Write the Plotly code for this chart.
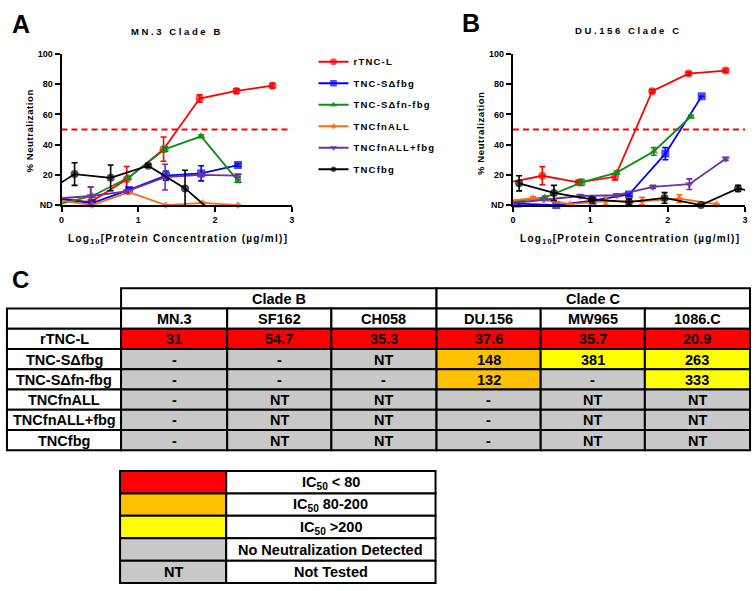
import plotly.graph_objects as go
import numpy as np

W, H = 756, 591

# ---------------- Panel A: MN.3 Clade B ----------------
series_names = ["rTNC-L", "TNC-S\u0394fbg", "TNC-S\u0394fn-fbg", "TNCfnALL", "TNCfnALL+fbg", "TNCfbg"]

a_rtncl_x = [-0.10, 0.38, 0.85, 1.33, 1.80, 2.28, 2.75]
a_rtncl_y = [4.5, 2, 17, 37, 70.5, 75.5, 79]
a_rtncl_e = [0, 10, 8.5, 8, 2.5, 1.5, 1.5]

a_sfbg_x = [-0.08, 0.40, 0.88, 1.36, 1.82, 2.30]
a_sfbg_y = [4.5, 1.3, 10, 19.5, 21, 26.5]
a_sfbg_e = [0, 1, 1.5, 3, 5, 1]

a_sfnfbg_x = [-0.08, 0.40, 0.87, 1.35, 1.82, 2.30]
a_sfnfbg_y = [0, 6, 18, 37, 45.5, 16]
a_sfnfbg_e = [0, 1, 1, 1.5, 1, 1]

a_fnall_x = [-0.08, 0.40, 0.88, 1.36, 1.84, 2.30]
a_fnall_y = [3.5, 0, 8.5, 0, 1.5, 0]
a_fnall_e = [0, 0, 1, 0, 0, 0]

a_fnallfbg_x = [-0.08, 0.38, 0.85, 1.35, 1.82, 2.30]
a_fnallfbg_y = [4.2, 6, 9, 18.5, 20, 19.5]
a_fnallfbg_e = [0, 6, 1, 8.5, 1, 1]

a_fbg_x = [-0.31, 0.17, 0.64, 1.13, 1.61, 2.09]
a_fbg_y = [5, 20.5, 18, 26, 11, -10]
a_fbg_e = [0, 7.5, 8.5, 1, 12, 0]

# ---------------- Panel B: DU.156 Clade C ----------------
b_rtncl_x = [-0.10, 0.38, 0.85, 1.32, 1.80, 2.27, 2.75]
b_rtncl_y = [14.5, 19.4, 15, 18.7, 75.4, 87, 89]
b_rtncl_e = [0, 6, 1, 2, 1, 1, 1]

b_sfbg_x = [0.055, 0.56, 1.03, 1.50, 1.97, 2.44]
b_sfbg_y = [1, 0, 3, 7, 34, 72]
b_sfbg_e = [0, 0, 2, 1, 4, 0]

b_sfnfbg_x = [-0.07, 0.41, 0.89, 1.34, 1.82, 2.30]
b_sfnfbg_y = [2, 5, 15, 21.5, 35.5, 58.6]
b_sfnfbg_e = [0, 1, 2, 1, 2.5, 1]

b_fnall_x = [-0.21, 0.26, 0.74, 1.20, 1.67, 2.15, 2.63]
b_fnall_y = [2, 4.5, 0.6, 2.6, 2.6, 4.3, 0.6]
b_fnall_e = [0, 1, 0, 2.5, 2.5, 2.5, 0]

b_fnallfbg_x = [-0.07, 0.40, 0.87, 1.34, 1.81, 2.28, 2.75]
b_fnallfbg_y = [1, 3.5, 6, 6.5, 12, 13.8, 30.6]
b_fnallfbg_e = [0, 0, 1, 1, 1, 3.5, 1]

b_fbg_x = [0.08, 0.53, 1.02, 1.50, 1.96, 2.43, 2.91, 3.38]
b_fbg_y = [14.4, 8, 3.7, 2, 4.7, 0, 11, 5.8]
b_fbg_e = [5, 5, 1, 2, 3.5, 0, 2, 0]

x_ticks = [0, 1, 2, 3]
y_ticks = [0, 20, 40, 60, 80, 100]
y_ticklabels = ["ND", "20", "40", "60", "80", "100"]

# ---------------- Table C ----------------
table_clades = ["Clade B", "Clade C"]
table_cols = ["MN.3", "SF162", "CH058", "DU.156", "MW965", "1086.C"]
table_rows = ["rTNC-L", "TNC-S\u0394fbg", "TNC-S\u0394fn-fbg", "TNCfnALL", "TNCfnALL+fbg", "TNCfbg"]
table_vals = [
    ["31", "54.7", "35.3", "37.6", "35.7", "20.9"],
    ["-", "-", "NT", "148", "381", "263"],
    ["-", "-", "-", "132", "-", "333"],
    ["-", "NT", "NT", "-", "NT", "NT"],
    ["-", "NT", "NT", "-", "NT", "NT"],
    ["-", "NT", "NT", "-", "NT", "NT"],
]
key_swatch_text = ["", "", "", "", "NT"]
key_labels = ["IC<sub>50</sub> < 80", "IC<sub>50</sub> 80-200", "IC<sub>50</sub> >200",
              "No Neutralization Detected", "Not Tested"]

# ---------------- styles ----------------
COL_RED = "#FF0000"
COL_ORANGE = "#FFC000"
COL_YELLOW = "#FFFF00"
COL_GRAY = "#C8C8C8"
key_colors = [COL_RED, COL_ORANGE, COL_YELLOW, COL_GRAY, COL_GRAY]

styles = [
    dict(color="#FF0000", symbol="circle", size=8),
    dict(color="#0000FF", symbol="square", size=8),
    dict(color="#138A13", symbol="triangle-up", size=8),
    dict(color="#FF6A13", symbol="diamond", size=6),
    dict(color="#7030A0", symbol="triangle-down", size=8),
    dict(color="#000000", symbol="circle", size=8),
]

FONT = "Liberation Sans, Arial, sans-serif"


def sp(text, ls):
    return '<span style="letter-spacing:%spx">%s</span>' % (ls, text)


def px(x):
    return x / W


def py(y):
    return 1 - y / H


fig = go.Figure()

panelA = [(a_rtncl_x, a_rtncl_y, a_rtncl_e), (a_sfbg_x, a_sfbg_y, a_sfbg_e),
          (a_sfnfbg_x, a_sfnfbg_y, a_sfnfbg_e), (a_fnall_x, a_fnall_y, a_fnall_e),
          (a_fnallfbg_x, a_fnallfbg_y, a_fnallfbg_e), (a_fbg_x, a_fbg_y, a_fbg_e)]
panelB = [(b_rtncl_x, b_rtncl_y, b_rtncl_e), (b_sfbg_x, b_sfbg_y, b_sfbg_e),
          (b_sfnfbg_x, b_sfnfbg_y, b_sfnfbg_e), (b_fnall_x, b_fnall_y, b_fnall_e),
          (b_fnallfbg_x, b_fnallfbg_y, b_fnallfbg_e), (b_fbg_x, b_fbg_y, b_fbg_e)]

for pi, (panel, xa, ya) in enumerate([(panelA, "x", "y"), (panelB, "x2", "y2")]):
    for si, (xs, ys, es) in enumerate(panel):
        st = styles[si]
        xs_a = np.array(xs, dtype=float)
        ys_a = np.array(ys, dtype=float)
        inside = (xs_a >= 0) & (xs_a <= 3) & (ys_a >= 0)
        sizes = np.where(inside, st["size"], 0)
        errs = np.where(inside, np.array(es, dtype=float), 0)
        fig.add_trace(go.Scatter(
            x=xs, y=ys, mode="lines+markers", xaxis=xa, yaxis=ya,
            name=sp(series_names[si], 1.2), legendgroup="g%d" % si,
            showlegend=(pi == 0), cliponaxis=False,
            line=dict(color=st["color"], width=1.8),
            marker=dict(color=st["color"], symbol=st["symbol"], size=sizes,
                        line=dict(width=0)),
            error_y=dict(type="data", array=errs, visible=True, color=st["color"],
                         thickness=1.6, width=3),
        ))

axis_common = dict(range=[0, 3], showline=True, linecolor="black", linewidth=2,
                   ticks="outside", ticklen=5, tickwidth=2, tickcolor="black",
                   showgrid=False, zeroline=False, tickvals=x_ticks,
                   tickfont=dict(family=FONT, size=9, color="black", weight="bold"))
yaxis_common = dict(range=[0, 100], showline=True, linecolor="black", linewidth=2,
                    ticks="outside", ticklen=5, tickwidth=2, tickcolor="black",
                    showgrid=False, zeroline=False, tickvals=y_ticks, ticktext=y_ticklabels,
                    tickfont=dict(family=FONT, size=9, color="black", weight="bold"))

yd = [py(203.5), py(49.8)]
fig.update_layout(
    xaxis=dict(domain=[px(59), px(291)], anchor="y", **axis_common),
    yaxis=dict(domain=yd, anchor="x", **yaxis_common),
    xaxis2=dict(domain=[px(514), px(748)], anchor="y2", **axis_common),
    yaxis2=dict(domain=yd, anchor="x2", **yaxis_common),
)

# 50% threshold lines
for xr, yr in [("x", "y"), ("x2", "y2")]:
    fig.add_shape(type="line", xref=xr, yref=yr, x0=0, x1=3, y0=50, y1=50,
                  line=dict(color="#FF0000", width=2, dash="6px,4px"), layer="below")

ann = []


def add_text(x, y, text, size, angle=0, xanchor="center", color="black"):
    ann.append(dict(x=px(x), y=py(y), xref="paper", yref="paper", text=text,
                    showarrow=False, xanchor=xanchor, yanchor="middle", textangle=angle,
                    font=dict(family=FONT, size=size, color=color, weight="bold")))


# panel letters
add_text(18, 19, "A", 25)
add_text(472, 18, "B", 25)
add_text(18, 279, "C", 24)

# plot titles
add_text(175, 27, sp("MN.3 Clade B", 2.6), 9.5)
add_text(630, 26, sp("DU.156 Clade C", 2.6), 9.5)
xt = sp("Log<sub>10</sub>[Protein Concentration (\u00b5g/ml)]", 1.3)
add_text(176, 238, xt, 10)
add_text(632, 238, xt, 10)
yt = sp("% Neutralization", 0.6)
add_text(27, 128, yt, 9.5, angle=-90)
add_text(482, 130, yt, 9.5, angle=-90)

# ---------------- table geometry ----------------
col_edges = [4, 119, 226, 331, 437, 542, 647, 753]
top, bottom = 288, 453
n_rows = 2 + len(table_rows)
row_edges = [top + (bottom - top) * i / n_rows for i in range(n_rows + 1)]
shapes = []


def cell(x0, x1, y0, y1, fill, lw=2):
    shapes.append(dict(type="rect", xref="paper", yref="paper", x0=px(x0), x1=px(x1),
                       y0=py(y1), y1=py(y0), fillcolor=fill,
                       line=dict(color="black", width=lw), layer="above"))


def cell_color(v):
    try:
        f = float(v)
    except ValueError:
        return COL_GRAY
    if f < 80:
        return COL_RED
    if f <= 200:
        return COL_ORANGE
    return COL_YELLOW


TS = 14.5
# clade row
for ci, cl in enumerate(table_clades):
    x0 = col_edges[1 + 3 * ci]
    x1 = col_edges[4 + 3 * ci]
    cell(x0, x1, row_edges[0], row_edges[1], "white")
    add_text((x0 + x1) / 2, (row_edges[0] + row_edges[1]) / 2 + 0.5, cl, TS)
# header row
cell(col_edges[0], col_edges[1], row_edges[1], row_edges[2], "white")
for ci, cname in enumerate(table_cols):
    x0, x1 = col_edges[ci + 1], col_edges[ci + 2]
    cell(x0, x1, row_edges[1], row_edges[2], "white")
    add_text((x0 + x1) / 2, (row_edges[1] + row_edges[2]) / 2 + 0.5, cname, TS)
# body
for ri, rname in enumerate(table_rows):
    y0, y1 = row_edges[ri + 2], row_edges[ri + 3]
    cell(col_edges[0], col_edges[1], y0, y1, "white")
    add_text((col_edges[0] + col_edges[1]) / 2, (y0 + y1) / 2 + 0.5, rname, TS)
    for ci, v in enumerate(table_vals[ri]):
        x0, x1 = col_edges[ci + 1], col_edges[ci + 2]
        cell(x0, x1, y0, y1, cell_color(v))
        add_text((x0 + x1) / 2, (y0 + y1) / 2 + 0.5, v, TS)

# key table
key_cols = [118, 225, 436]
key_top, key_bottom = 474, 588
kh = (key_bottom - key_top) / len(key_labels)
for ki, lab in enumerate(key_labels):
    y0 = key_top + ki * kh
    y1 = y0 + kh
    cell(key_cols[0], key_cols[1], y0, y1, key_colors[ki])
    cell(key_cols[1], key_cols[2], y0, y1, "white")
    if key_swatch_text[ki]:
        add_text((key_cols[0] + key_cols[1]) / 2, (y0 + y1) / 2 + 0.5, key_swatch_text[ki], TS)
    add_text((key_cols[1] + key_cols[2]) / 2, (y0 + y1) / 2 + 0.5, lab, TS)

fig.update_layout(
    width=W, height=H, margin=dict(l=0, r=0, t=0, b=0),
    paper_bgcolor="white", plot_bgcolor="white",
    annotations=ann, shapes=list(fig.layout.shapes) + shapes,
    legend=dict(x=px(313), y=py(43), xanchor="left", yanchor="top",
                font=dict(family=FONT, size=9.5, color="black", weight="bold"),
                tracegroupgap=2.5, bgcolor="rgba(0,0,0,0)", itemwidth=30),
    showlegend=True,
)

fig.write_html("out.html", config={"displayModeBar": False},
               post_script="document.body.style.margin='0px';")
